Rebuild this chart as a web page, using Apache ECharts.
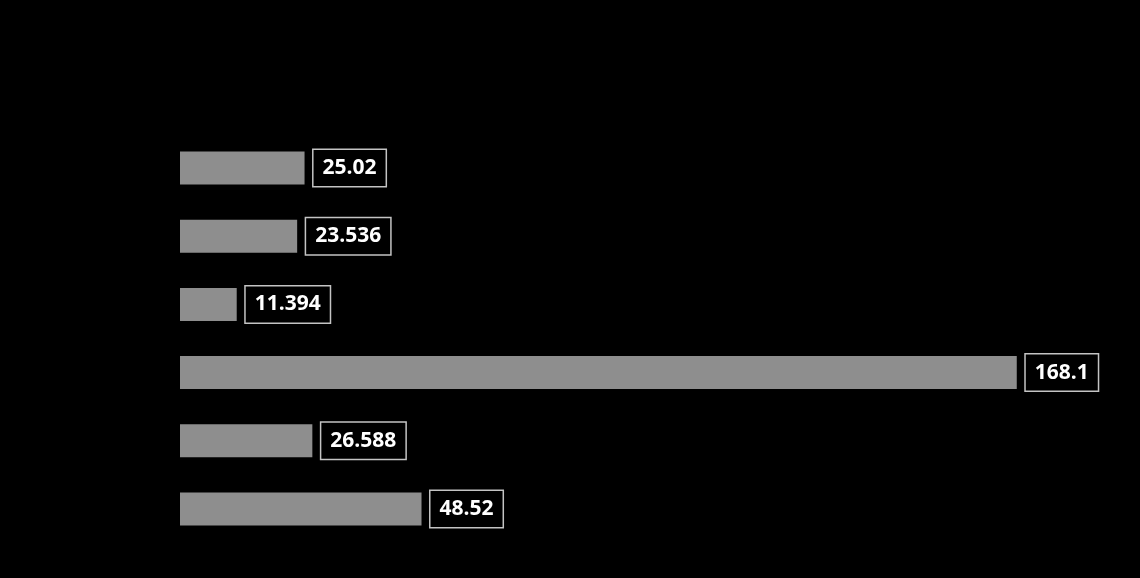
<!DOCTYPE html>
<html>
<head>
<meta charset="utf-8">
<script src="https://cdn.jsdelivr.net/npm/echarts@6/dist/echarts.min.js"></script>
<style>
  html, body {
    margin: 0;
    padding: 0;
    background: #000;
  }
  #chart {
    width: 1140px;
    height: 578px;
  }
</style>
</head>
<body>
<div id="chart"></div>
<script>
const categories = ['A', 'B', 'C', 'D', 'E', 'F']
const values = [25.02, 23.536, 11.394, 168.1, 26.588, 48.52]
const labels = ['25.02', '23.536', '11.394', '168.1', '26.588', '48.52']

const chart = echarts.init(document.getElementById('chart'))

chart.setOption({
  backgroundColor: '#000000',
  animation: false,
  grid: {
    left: 180,
    right: 64,
    top: 134,
    bottom: 35,
  },
  xAxis: {
    type: 'value',
    min: 0,
    max: 180,
    show: false,
  },
  yAxis: {
    type: 'category',
    data: categories,
    inverse: true,
    show: false,
  },
  series: [
    {
      type: 'bar',
      data: values,
      barWidth: 33,
      itemStyle: {
        color: '#8e8e8e',
      },
      label: {
        show: true,
        position: 'right',
        distance: 9,
        formatter: (p) => labels[p.dataIndex],
        color: '#ffffff',
        fontFamily: 'Open Sans, sans-serif',
        fontWeight: 'bold',
        fontSize: 21,
        lineHeight: 24,
        padding: [6, 9, 6, 9],
        backgroundColor: '#000000',
        borderColor: '#c4c4c4',
        borderWidth: 1.5,
      },
    },
  ],
})
</script>
</body>
</html>
